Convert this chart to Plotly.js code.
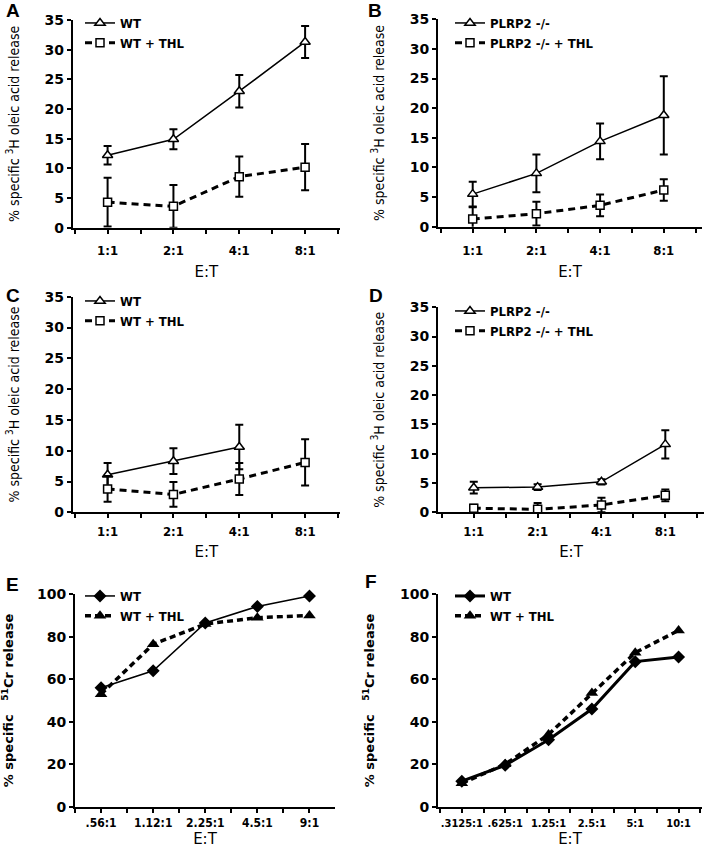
<!DOCTYPE html>
<html>
<head>
<meta charset="utf-8">
<script src="https://cdn.plot.ly/plotly-3.0.1.min.js"></script>
<style>html,body{margin:0;padding:0;background:#fff;}#chart{width:704px;height:853px;}</style>
</head>
<body>
<div id="chart"></div>
<script>
// ---- data ----
const catsABCD = ['1:1', '2:1', '4:1', '8:1'];
const catsE = ['.56:1', '1.12:1', '2.25:1', '4.5:1', '9:1'];
const catsF = ['.3125:1', '.625:1', '1.25:1', '2.5:1', '5:1', '10:1'];

const A_wt = [12.2, 14.9, 23.0, 31.3];
const A_wt_err = [1.55, 1.7, 2.75, 2.7];
const A_thl = [4.3, 3.6, 8.6, 10.2];
const A_thl_err = [4.1, 3.6, 3.4, 3.9];

const B_ko = [5.5, 9.0, 14.4, 18.8];
const B_ko_err = [2.1, 3.2, 3.0, 6.6];
const B_thl = [1.3, 2.2, 3.6, 6.2];
const B_thl_err = [2.0, 2.0, 1.85, 1.8];

const C_wt = [6.1, 8.3, 10.6];
const C_wt_err = [1.9, 2.1, 3.6];
const C_thl = [3.8, 2.9, 5.4, 8.1];
const C_thl_err = [2.1, 2.0, 2.6, 3.75];

const D_ko = [4.2, 4.3, 5.2, 11.6];
const D_ko_err = [1.0, 0.5, 0.45, 2.4];
const D_thl = [0.7, 0.5, 1.25, 2.9];
const D_thl_err = [0.6, 1.1, 1.25, 1.0];

const E_wt = [56, 64, 86.5, 94.3, 99.2];
const E_thl = [53, 76.5, 86, 89, 90];

const F_wt = [12, 19.5, 31.5, 46, 68.3, 70.5];
const F_thl = [11, 20, 34, 53.5, 72.5, 83];

// ---- helpers ----
const W = 704, H = 853;
const NARROW = "'DejaVu Sans Condensed', 'Liberation Sans Narrow', sans-serif";
const WIDE = "'DejaVu Sans', Verdana, sans-serif";
const idx = arr => arr.map((_, i) => i);
const dx = (a, b) => [a / W, b / W];
const dy = (top, bottom) => [1 - bottom / H, 1 - top / H];

function err(arr) {
  return {type: 'data', array: arr, visible: true, thickness: 2, width: 4, color: 'black'};
}
function openTri(name, y, e, ax, lg) {
  return {x: idx(y), y: y, name: name, mode: 'lines+markers', error_y: err(e),
    line: {color: 'black', width: 1.5},
    marker: {symbol: 'triangle-up', size: 9, color: 'white', line: {color: 'black', width: 1.5}},
    xaxis: 'x' + ax, yaxis: 'y' + ax, legend: lg, cliponaxis: false};
}
function openSq(name, y, e, ax, lg) {
  return {x: idx(y), y: y, name: name, mode: 'lines+markers', error_y: err(e),
    line: {color: 'black', width: 3, dash: '7px,5px'},
    marker: {symbol: 'square', size: 8, color: 'white', line: {color: 'black', width: 1.5}},
    xaxis: 'x' + ax, yaxis: 'y' + ax, legend: lg, cliponaxis: false};
}
function diam(name, y, ax, lg, w) {
  return {x: idx(y), y: y, name: name, mode: 'lines+markers',
    line: {color: 'black', width: w},
    marker: {symbol: 'diamond', size: 10, color: 'black'},
    xaxis: 'x' + ax, yaxis: 'y' + ax, legend: lg, cliponaxis: false};
}
function tri(name, y, ax, lg) {
  return {x: idx(y), y: y, name: name, mode: 'lines+markers',
    line: {color: 'black', width: 3.5, dash: '6px,4px'},
    marker: {symbol: 'triangle-up', size: 11, color: 'black'},
    xaxis: 'x' + ax, yaxis: 'y' + ax, legend: lg, cliponaxis: false};
}

const traces = [
  openTri('WT', A_wt, A_wt_err, '', 'legend'),
  openSq('WT + THL', A_thl, A_thl_err, '', 'legend'),
  openTri('PLRP2 -/-', B_ko, B_ko_err, '2', 'legend2'),
  openSq('PLRP2 -/- + THL', B_thl, B_thl_err, '2', 'legend2'),
  openTri('WT', C_wt, C_wt_err, '3', 'legend3'),
  openSq('WT + THL', C_thl, C_thl_err, '3', 'legend3'),
  openTri('PLRP2 -/-', D_ko, D_ko_err, '4', 'legend4'),
  openSq('PLRP2 -/- + THL', D_thl, D_thl_err, '4', 'legend4'),
  diam('WT', E_wt, '5', 'legend5', 1.5),
  tri('WT + THL', E_thl, '5', 'legend5'),
  diam('WT', F_wt, '6', 'legend6', 3),
  tri('WT + THL', F_thl, '6', 'legend6')
];

function xax(cats, range, domain, anchor, lstand, tstand, fsize) {
  return {domain: domain, anchor: anchor, range: range, type: 'linear',
    tickmode: 'array', tickvals: idx(cats), ticktext: cats, tickangle: 0,
    showline: true, linewidth: 2, linecolor: 'black', showgrid: false, zeroline: false,
    ticks: 'outside', ticklen: 4, tickwidth: 2, tickcolor: 'black', ticklabelstandoff: lstand,
    minor: {tickmode: 'linear', tick0: 0.5, dtick: 1, ticks: 'outside', ticklen: 4, tickwidth: 2, tickcolor: 'black', showgrid: false},
    tickfont: {family: NARROW, size: fsize, weight: 'bold', color: 'black'},
    title: {text: 'E:T', font: {family: WIDE, size: 15, color: 'black'}, standoff: tstand}};
}
function yax(range, dtick, domain, anchor, title, tfont, lfont) {
  return {domain: domain, anchor: anchor, range: range, dtick: dtick, tick0: 0,
    showline: true, linewidth: 2, linecolor: 'black', showgrid: false, zeroline: false,
    ticks: 'outside', ticklen: 4, tickwidth: 2, tickcolor: 'black',
    tickfont: lfont,
    title: {text: title, font: tfont, standoff: 22}};
}
const oleic = '% specific <sup>3</sup>H oleic acid release';
const cr = '% specific\u00a0\u00a0 <sup>51</sup>Cr release';
const tfN = {family: NARROW, size: 14, color: 'black'};
const tfW = {family: WIDE, size: 13, weight: 'bold', color: 'black'};
const lfN = {family: WIDE, size: 14, weight: 'bold', color: 'black'};
const lfE = {family: WIDE, size: 14, weight: 'bold', color: 'black'};

function leg(xpx, ypx) {
  return {x: xpx / W, y: 1 - ypx / H, xanchor: 'left', yanchor: 'top', bgcolor: 'rgba(0,0,0,0)',
    borderwidth: 0, tracegroupgap: 0, itemwidth: 30,
    font: {family: NARROW, size: 13, weight: 'bold', color: 'black'}};
}

const layout = {
  width: W, height: H, margin: {l: 0, r: 0, t: 0, b: 0},
  paper_bgcolor: 'white', plot_bgcolor: 'white', showlegend: true,
  xaxis: xax(catsABCD, [-0.53, 3.53], dx(72.7, 340), 'y', 6, 9, 13),
  yaxis: yax([0, 35], 5, dy(20, 227.7), 'x', oleic, tfN, lfN),
  xaxis2: xax(catsABCD, [-0.545, 3.6], dx(438, 702), 'y2', 7, 9, 13),
  yaxis2: yax([0, 35], 5, dy(19.3, 226.7), 'x2', oleic, tfN, lfN),
  xaxis3: xax(catsABCD, [-0.53, 3.53], dx(72.7, 340), 'y3', 2, 9, 13),
  yaxis3: yax([0, 35], 5, dy(296.7, 512.3), 'x3', oleic, tfN, lfN),
  xaxis4: xax(catsABCD, [-0.56, 3.606], dx(438, 704), 'y4', 2, 9, 13),
  yaxis4: yax([0, 35], 5, dy(307.3, 512.3), 'x4', oleic, tfN, lfN),
  xaxis5: xax(catsE, [-0.5, 4.49], dx(75, 335), 'y5', 0, 2, 12),
  yaxis5: yax([0, 100], 20, dy(594.3, 806.7), 'x5', cr, tfW, lfE),
  xaxis6: xax(catsF, [-0.55, 5.54], dx(438, 702), 'y6', 1, 2, 11),
  yaxis6: yax([0, 100], 20, dy(594.3, 806.7), 'x6', cr, tfW, lfE),
  legend: leg(80, 8),
  legend2: leg(450, 8),
  legend3: leg(80, 286),
  legend4: leg(450, 296),
  legend5: leg(80, 581),
  legend6: leg(450, 581),
  annotations: [
    ['A', 12.5, 10], ['B', 375, 10], ['C', 13, 295], ['D', 376, 296], ['E', 12, 584], ['F', 371, 581]
  ].map(([t, x, y]) => ({text: t, x: x / W, y: 1 - y / H, xref: 'paper', yref: 'paper',
    xanchor: 'center', yanchor: 'middle', showarrow: false,
    font: {family: "'Liberation Sans', Arial, sans-serif", size: 19, weight: 'bold', color: 'black'}}))
};

Plotly.newPlot('chart', traces, layout, {staticPlot: true, displayModeBar: false});
</script>
</body>
</html>
